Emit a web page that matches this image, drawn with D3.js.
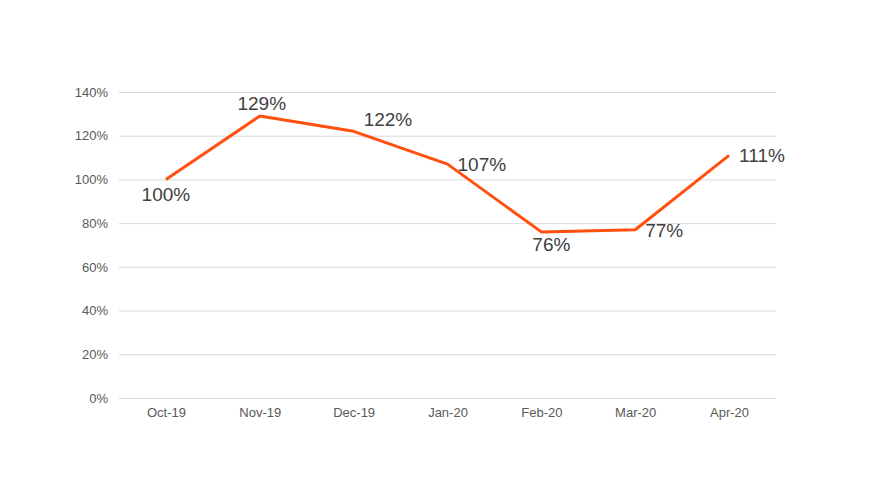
<!DOCTYPE html>
<html>
<head>
<meta charset="utf-8">
<script src="https://cdn.jsdelivr.net/npm/d3@7"></script>
<style>
  body { margin: 0; background: #fff; }
  svg { font-family: "Liberation Sans", Arial, sans-serif; }
  .axis-left .domain, .axis-bottom .domain { display: none; }
  .axis-left line { stroke: #d9d9d9; }
  .axis-left text, .axis-bottom text { fill: #595959; font-size: 13px; }
</style>
</head>
<body>
<div id="container"></div>
<script>

var months = ["Oct-19", "Nov-19", "Dec-19", "Jan-20", "Feb-20", "Mar-20", "Apr-20"];

var values = [100, 129, 122, 107, 76, 77, 111];

var yTicks = [0, 20, 40, 60, 80, 100, 120, 140];

//  where each data label sits relative to its point
var labelPlace = ["below", "above", "rightUp", "right", "belowRight", "right", "right"];

var width = 870, height = 478;

var margin = {top: 92, right: 94, bottom: 80, left: 119};

var lineColor = "#FF5010";

var svg = d3.select("#container")
    .append("svg")
    .attr("width", width)
    .attr("height", height)
    .append("g")
    .attr("transform", "translate(" + margin.left + "," + margin.top + ")");

var w = width - margin.left - margin.right;
var h = height - margin.top - margin.bottom;

var x = d3.scalePoint()
    .domain(months)
    .range([0, w])
    .padding(0.5);

var y = d3.scaleLinear()
    .domain([0, 140])
    .range([h, 0]);

svg.append("g")
    .attr("class", "axis-left")
    .call(d3.axisLeft(y).tickValues(yTicks).tickSize(-w).tickPadding(11)
        .tickFormat(function(d){ return d + "%"; }));

svg.append("g")
    .attr("class", "axis-bottom")
    .attr("transform", "translate(0," + h + ")")
    .call(d3.axisBottom(x).tickSize(0).tickPadding(10));

var line = d3.line()
    .x(function(d, i){ return x(months[i]); })
    .y(function(d){ return y(d); });

svg.append("path")
    .datum(values)
    .attr("d", line)
    .attr("fill", "none")
    .attr("stroke", lineColor)
    .attr("stroke-width", 3)
    .attr("stroke-linejoin", "round");

svg.selectAll(".label")
    .data(values)
    .enter()
    .append("text")
    .attr("class", "label")
    .attr("x", function(d, i){
        var p = labelPlace[i];
        if (p == "right" || p == "rightUp") return x(months[i]) + 10;
        if (p == "belowRight") return x(months[i]) + 10;
        if (p == "above") return x(months[i]) + 2;
        return x(months[i]);
    })
    .attr("y", function(d, i){
        var p = labelPlace[i];
        if (p == "below") return y(d) + 22;
        if (p == "belowRight") return y(d) + 19;
        if (p == "above") return y(d) - 6;
        if (p == "rightUp") return y(d) - 5;
        return y(d) + 7;
    })
    .attr("text-anchor", function(d, i){
        var p = labelPlace[i];
        return (p == "right" || p == "rightUp") ? "start" : "middle";
    })
    .attr("fill", "#404040")
    .attr("font-size", "19px")
    .text(function(d){ return d + "%"; });

</script>
</body>
</html>
